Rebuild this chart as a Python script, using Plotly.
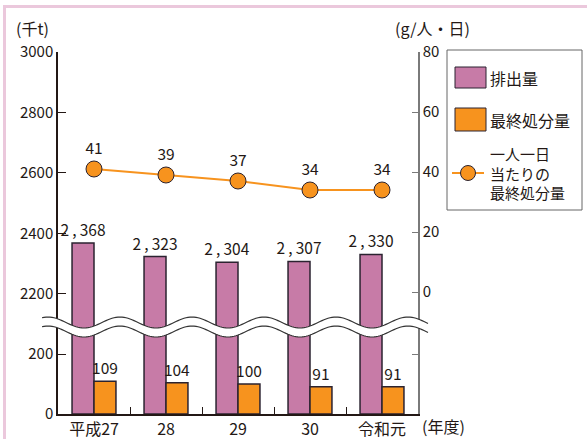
import math
import plotly.graph_objects as go

# ---------------- data ----------------
years = ["平成27", "28", "29", "30", "令和元"]
emission = [2368, 2323, 2304, 2307, 2330]          # 排出量 (千t)
final_disposal = [109, 104, 100, 91, 91]            # 最終処分量 (千t)
per_capita = [41, 39, 37, 34, 34]                   # 一人一日当たりの最終処分量 (g/人・日)
left_upper_ticks = [2200, 2400, 2600, 2800, 3000]
left_lower_ticks = [0, 200]
right_ticks = [0, 20, 40, 60, 80]

# ---------------- style ----------------
W, H = 587, 439
L, R, T, B = 58, 418, 52, 414
FONT = "Noto Sans CJK JP"
TXT = "#231815"
PURPLE = "#c77ba7"
ORANGE = "#f7931e"
EDGE = "#2b2330"
GRAY = "#7a7a7a"


def px(x):
    return (x - L) / (R - L)


def py(y):
    return (B - y) / (B - T)


split = py(324)

fig = go.Figure()

emission_lbl = [f"{v:,}".replace(",", "\u2009,\u2009") for v in emission]

# lower panel
fig.add_trace(go.Bar(x=years, y=emission, xaxis="x", yaxis="y",
                     marker=dict(color=PURPLE, line=dict(color=EDGE, width=1.5)),
                     showlegend=False, hoverinfo="skip"))
fig.add_trace(go.Bar(x=years, y=final_disposal, xaxis="x", yaxis="y",
                     marker=dict(color=ORANGE, line=dict(color=EDGE, width=1.5)),
                     text=[str(v) for v in final_disposal], textposition="outside",
                     constraintext="none", cliponaxis=False,
                     textfont=dict(family=FONT, size=15.5, color=TXT),
                     showlegend=False, hoverinfo="skip"))
# upper panel
fig.add_trace(go.Bar(x=years, y=emission, xaxis="x", yaxis="y2",
                     marker=dict(color=PURPLE, line=dict(color=EDGE, width=1.5)),
                     text=emission_lbl, textposition="outside",
                     constraintext="none", cliponaxis=False,
                     textfont=dict(family=FONT, size=15.5, color=TXT),
                     showlegend=False, hoverinfo="skip"))
fig.add_trace(go.Bar(x=years, y=final_disposal, xaxis="x", yaxis="y2",
                     marker=dict(color=ORANGE, line=dict(color=EDGE, width=1.5)),
                     showlegend=False, hoverinfo="skip"))
# per-capita line
fig.add_trace(go.Scatter(x=years, y=per_capita, xaxis="x", yaxis="y3",
                         mode="lines+markers+text",
                         line=dict(color=ORANGE, width=2),
                         marker=dict(size=16, color=ORANGE, line=dict(color=EDGE, width=1)),
                         text=[str(v) for v in per_capita], textposition="top center",
                         textfont=dict(family=FONT, size=15.5, color=TXT),
                         showlegend=False, hoverinfo="skip", cliponaxis=False))
# empty trace to make the lower right axis render
fig.add_trace(go.Scatter(x=[years[0]], y=[None], xaxis="x", yaxis="y4",
                         mode="markers", showlegend=False, hoverinfo="skip"))

axis_common = dict(showgrid=False, zeroline=False, showline=True, ticks="inside",
                   automargin=False,
                   tickfont=dict(family=FONT, size=15, color=TXT))

fig.update_layout(
    template="none",
    width=W, height=H,
    margin=dict(l=L, r=W - R, t=T, b=H - B, pad=0, autoexpand=False),
    paper_bgcolor="white", plot_bgcolor="white",
    barmode="group", bargap=0.39, bargroupgap=0,
    showlegend=False,
    font=dict(family=FONT, size=15, color=TXT),
    xaxis=dict(domain=[0, 1], anchor="y", type="category", range=[-0.5, 4.5],
               automargin=False,
               showgrid=False, zeroline=False, showline=True, linecolor=TXT, linewidth=1.5,
               ticks="inside", tickson="boundaries", ticklen=7, tickcolor=TXT, tickwidth=1.2,
               tickfont=dict(family=FONT, size=16, color=TXT)),
    yaxis=dict(domain=[0, split], range=[0, 300], tickvals=left_lower_ticks,
               linecolor=TXT, linewidth=1.5, ticklen=8, tickcolor=TXT, tickwidth=1.2,
               anchor="x", **axis_common),
    yaxis2=dict(domain=[split, 1], range=[2100, 3000], tickvals=left_upper_ticks,
                linecolor=TXT, linewidth=1.5, ticklen=8, tickcolor=TXT, tickwidth=1.2,
                anchor="x", **axis_common),
    yaxis3=dict(overlaying="y2", side="right", anchor="x",
                range=[-32 / 3, 80], tickvals=right_ticks,
                linecolor=GRAY, linewidth=1.5, ticklen=6, tickcolor=GRAY, tickwidth=1.2,
                **axis_common),
    yaxis4=dict(overlaying="y", side="right", anchor="x",
                range=[0, 300], tickvals=[200], showticklabels=False,
                linecolor=GRAY, linewidth=1.5, ticklen=6, tickcolor=GRAY, tickwidth=1.2,
                automargin=False,
                showgrid=False, zeroline=False, showline=True, ticks="inside"),
)

shapes = []
# pink frame
shapes.append(dict(type="line", xref="paper", yref="paper",
                   x0=px(4.5), x1=px(4.5), y0=py(H + 5), y1=py(6),
                   line=dict(color="#ebc8dc", width=3)))
shapes.append(dict(type="line", xref="paper", yref="paper",
                   x0=px(3), x1=px(W + 5), y0=py(6.5), y1=py(6.5),
                   line=dict(color="#ebc8dc", width=3)))

# wave break
xs = [42 + i for i in range(0, 387, 2)]
top = [322.5 + 5.5 * math.cos(2 * math.pi * (x - 84) / 72) for x in xs]
bot = [t + 9 for t in top]
fill = "M " + " L ".join(f"{px(x):.5f},{py(y):.5f}" for x, y in zip(xs, top))
fill += " L " + " L ".join(f"{px(x):.5f},{py(y):.5f}" for x, y in zip(reversed(xs), reversed(bot))) + " Z"
shapes.append(dict(type="path", xref="paper", yref="paper", path=fill,
                   fillcolor="white", line=dict(width=0), layer="above"))
for curve in (top, bot):
    p = "M " + " L ".join(f"{px(x):.5f},{py(y):.5f}" for x, y in zip(xs, curve))
    shapes.append(dict(type="path", xref="paper", yref="paper", path=p,
                       line=dict(color="#333333", width=1.2), layer="above"))

# legend box
shapes.append(dict(type="rect", xref="paper", yref="paper",
                   x0=px(447), x1=px(582), y0=py(210), y1=py(50),
                   line=dict(color="#666666", width=1), fillcolor="white"))
shapes.append(dict(type="rect", xref="paper", yref="paper",
                   x0=px(455), x1=px(486), y0=py(88), y1=py(67),
                   line=dict(color=EDGE, width=1), fillcolor=PURPLE))
shapes.append(dict(type="rect", xref="paper", yref="paper",
                   x0=px(455), x1=px(486), y0=py(131), y1=py(108),
                   line=dict(color=EDGE, width=1), fillcolor=ORANGE))
shapes.append(dict(type="line", xref="paper", yref="paper",
                   x0=px(452), x1=px(484), y0=py(173), y1=py(173),
                   line=dict(color=ORANGE, width=2)))
shapes.append(dict(type="circle", xref="paper", yref="paper",
                   x0=px(460.5), x1=px(475.5), y0=py(180.5), y1=py(165.5),
                   line=dict(color=EDGE, width=1), fillcolor=ORANGE))
fig.update_layout(shapes=shapes)

ann_font = dict(family=FONT, size=16, color=TXT)
annotations = [
    dict(text="排出量", x=px(488), y=py(78), font=ann_font),
    dict(text="最終処分量", x=px(488), y=py(120), font=ann_font),
    dict(text="一人一日<br>当たりの<br>最終処分量", x=px(488), y=py(173),
         font=dict(family=FONT, size=15, color=TXT)),
    dict(text="(千t)", x=px(14), y=py(28), font=ann_font),
    dict(text="(g/人・日)", x=px(393), y=py(28), font=ann_font),
    dict(text="(年度)", x=px(420), y=py(426), font=ann_font),
]
for a in annotations:
    a.update(xref="paper", yref="paper", xanchor="left", yanchor="middle",
             showarrow=False, align="left")
fig.update_layout(annotations=annotations)

fig.write_html("out.html")
